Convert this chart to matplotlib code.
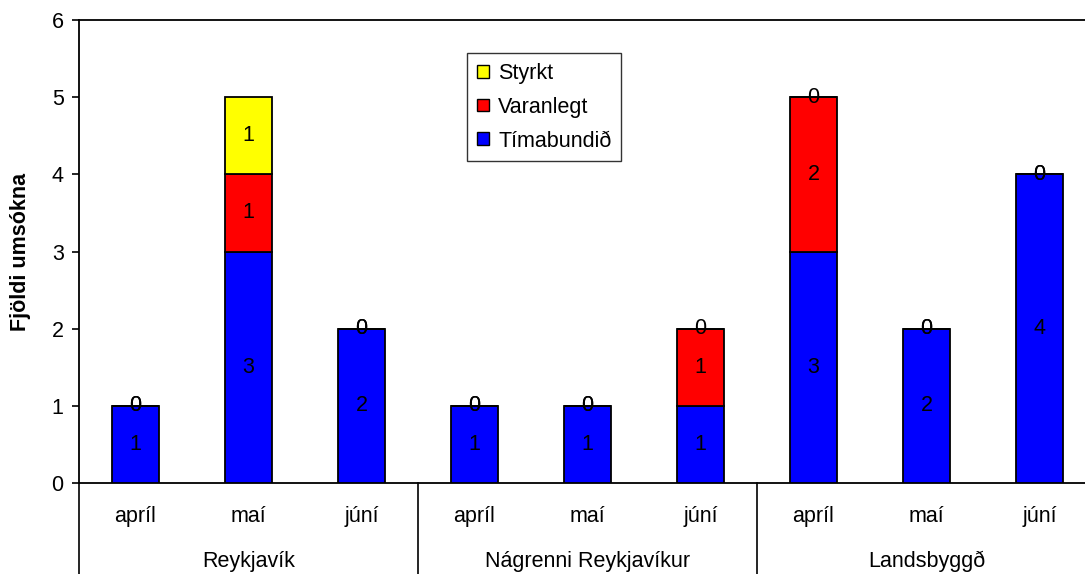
import matplotlib
matplotlib.use("Agg")
import matplotlib.pyplot as plt
from matplotlib.patches import Patch

plt.rcParams['font.family'] = ['Liberation Sans', 'DejaVu Sans']

months = ["apríl", "maí", "júní", "apríl", "maí", "júní", "apríl", "maí", "júní"]
groups = ["Reykjavík", "Nágrenni Reykjavíkur", "Landsbyggð"]
timabundid = [1, 3, 2, 1, 1, 1, 3, 2, 4]
varanlegt = [0, 1, 0, 0, 0, 1, 2, 0, 0]
styrkt = [0, 1, 0, 0, 0, 0, 0, 0, 0]

series = [("Tímabundið", timabundid, "#0000FF"),
          ("Varanlegt", varanlegt, "#FF0000"),
          ("Styrkt", styrkt, "#FFFF00")]

FS = 15.5
W, H = 1085, 574
fig = plt.figure(figsize=(W/100, H/100), dpi=100)
ax = fig.add_axes([79/W, 1-483/H, (1096-79)/W, (483-20)/H])

x = list(range(len(months)))
bottom = [0]*len(x)
handles = []
for name, vals, col in series:
    ax.bar(x, vals, bottom=bottom, width=0.415, color=col, edgecolor="black", linewidth=1.3, zorder=3)
    for i, v in enumerate(vals):
        ax.text(x[i], bottom[i] + v/2, str(v), ha="center", va="center", fontsize=FS, zorder=4)
    bottom = [b + v for b, v in zip(bottom, vals)]
    handles.append(Patch(facecolor=col, edgecolor="black", label=name))

ax.set_xlim(-0.5, len(x)-0.5)
ax.set_ylim(0, 6)
ax.set_yticks(range(7))
ax.tick_params(axis="y", labelsize=FS, length=5, width=1.2, direction="out", pad=6)
ax.set_xticks([])
ax.set_ylabel("Fjöldi umsókna", fontsize=FS, fontweight="bold")
ax.yaxis.set_label_coords((31-79)/(1096-79), 0.5)
ax.spines["right"].set_visible(False)
for s in ax.spines.values():
    s.set_linewidth(1.3)

ppu = (483-20)/6.0
for i, m in enumerate(months):
    ax.text(i, -(522-483)/ppu, m, ha="center", va="baseline", fontsize=FS, clip_on=False)
for gi, g in enumerate(groups):
    ax.text(gi*3 + 1, -(567-483)/ppu, g, ha="center", va="baseline", fontsize=FS, clip_on=False)
for b in [0, 3, 6, 9]:
    ax.plot([b-0.5, b-0.5], [0, -1.4], color="black", linewidth=1.2, clip_on=False)

leg = ax.legend(handles=handles[::-1], loc="upper left", bbox_to_anchor=(467/W, 1-53/H),
                bbox_transform=fig.transFigure, borderaxespad=0,
                fontsize=FS, frameon=True, fancybox=False, edgecolor="black",
                handlelength=0.55, handleheight=0.55, handletextpad=0.45, labelspacing=0.6, borderpad=0.45)
leg.get_frame().set_linewidth(1)

fig.savefig("out.png", dpi=100)
